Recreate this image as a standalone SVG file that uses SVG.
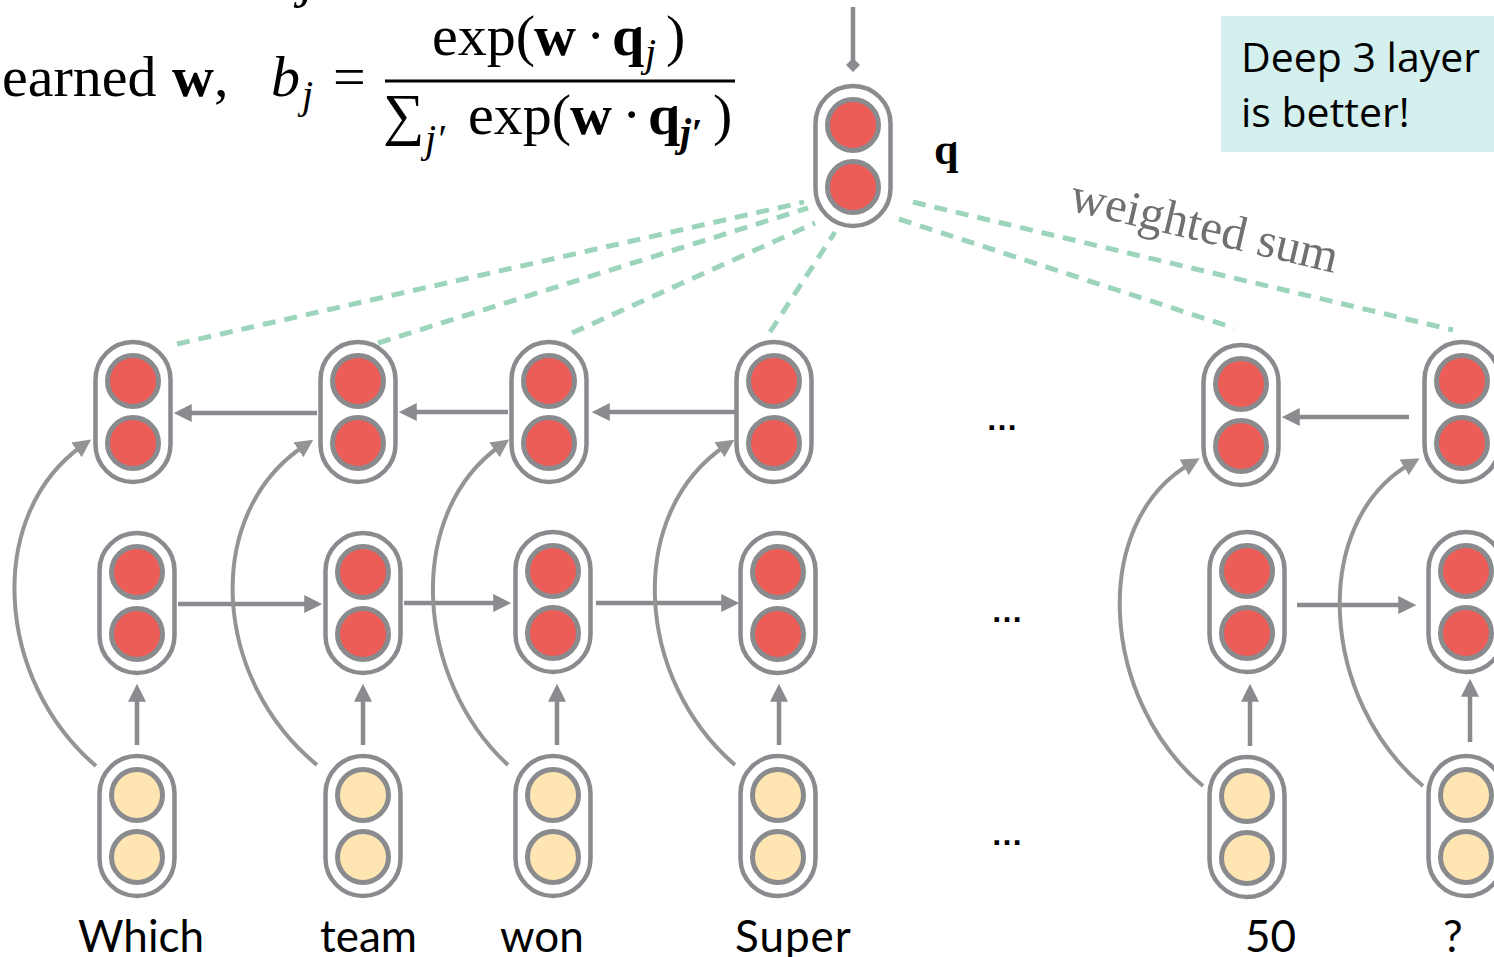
<svg xmlns="http://www.w3.org/2000/svg" width="1494" height="957" viewBox="0 0 1494 957">
<defs>
<style>
.pill{fill:#fff;stroke:#898b8e;stroke-width:4.5}
.r{fill:#ec5d57;stroke:#898b8e;stroke-width:5}
.y{fill:#fee5b1;stroke:#898b8e;stroke-width:5}
.ar{stroke:#898b8e;stroke-width:4.5;fill:none}
.cv{stroke:#949494;stroke-width:4;fill:none}
.ds{stroke:#9dd5bc;stroke-width:5;stroke-dasharray:13 9;fill:none}
.m{font-family:"Liberation Serif",serif;font-size:58px;fill:#000}
.sub{font-size:40px}
.lab{font-family:Lato,"Noto Sans",sans-serif;font-size:44px;fill:#000}
.dots{font-family:"Liberation Sans",sans-serif;font-size:32px;font-weight:bold;fill:#000}
</style>
<marker id="ah" markerUnits="userSpaceOnUse" markerWidth="18" markerHeight="18" viewBox="0 0 16 16" refX="6" refY="8" orient="auto">
<path d="M0,0 L16,8 L0,16 z" fill="#898b8e"/>
</marker>
<marker id="ahc" markerUnits="userSpaceOnUse" markerWidth="18" markerHeight="18" viewBox="0 0 16 16" refX="6" refY="8" orient="auto">
<path d="M0,0 L16,8 L0,16 z" fill="#949494"/>
</marker>
<g id="cell">
<rect class="pill" x="-37.5" y="-70" width="75" height="140" rx="37.5"/>
</g>
</defs>
<rect width="1494" height="957" fill="#fff"/>

<!-- formula -->
<g id="formula">
<text class="m" x="300" y="-4" font-style="italic">j</text>
<text class="m" x="2" y="96">earned</text>
<text class="m" x="172" y="96"><tspan font-weight="bold">w</tspan>,</text>
<text class="m" x="271" y="96" font-style="italic">b</text>
<text class="m sub" x="302" y="108" font-style="italic">j</text>
<text class="m" x="333" y="96">=</text>
<text class="m" x="432" y="55">exp(</text>
<text class="m" x="534" y="55" font-weight="bold">w</text>
<text class="m" x="586" y="55">·</text>
<text class="m" x="612" y="55" font-weight="bold">q</text>
<text class="m sub" x="645" y="66" font-style="italic">j</text>
<text class="m" x="666" y="55">)</text>
<line x1="385" y1="81" x2="735" y2="81" stroke="#000" stroke-width="3"/>
<text class="m" x="383" y="134">∑</text>
<text class="m sub" x="425" y="152" font-style="italic">j′</text>
<text class="m" x="468" y="134">exp(</text>
<text class="m" x="570" y="134" font-weight="bold">w</text>
<text class="m" x="622" y="134">·</text>
<text class="m" x="648" y="134" font-weight="bold">q</text>
<text class="m sub" x="680" y="146" font-style="italic" font-weight="bold">j′</text>
<text class="m" x="713" y="134">)</text>
</g>

<!-- note box -->
<g id="note">
<rect x="1221" y="16" width="273" height="136" fill="#d3f0ee"/>
<text x="1241" y="72" font-family="'Open Sans',sans-serif" font-size="41" fill="#000">Deep 3 layer</text>
<text x="1241" y="127" font-family="'Open Sans',sans-serif" font-size="41" fill="#000">is better!</text>
</g>

<!-- connectors -->
<g id="connectors">
<line class="ds" x1="177" y1="344" x2="804" y2="202"/>
<line class="ds" x1="378" y1="343" x2="808" y2="208"/>
<line class="ds" x1="572" y1="333" x2="815" y2="223"/>
<line class="ds" x1="770" y1="332" x2="835" y2="232"/>
<line class="ds" x1="913" y1="202" x2="1453" y2="330"/>
<line class="ds" x1="899" y1="219" x2="1234" y2="328"/>
<line x1="853" y1="7" x2="853" y2="62" stroke="#898b8e" stroke-width="4.5"/>
<polygon points="853,58 860,65 853,72 846,65" fill="#898b8e"/>
<line class="ar" x1="317" y1="413" x2="185" y2="413" marker-end="url(#ah)"/>
<line class="ar" x1="508" y1="412" x2="410" y2="412" marker-end="url(#ah)"/>
<line class="ar" x1="735" y1="412" x2="603" y2="412" marker-end="url(#ah)"/>
<line class="ar" x1="1409" y1="417" x2="1293" y2="417" marker-end="url(#ah)"/>
<line class="ar" x1="178" y1="604" x2="311" y2="604" marker-end="url(#ah)"/>
<line class="ar" x1="404" y1="603" x2="500" y2="603" marker-end="url(#ah)"/>
<line class="ar" x1="596" y1="603" x2="728" y2="603" marker-end="url(#ah)"/>
<line class="ar" x1="1297" y1="605" x2="1405" y2="605" marker-end="url(#ah)"/>
<line class="ar" x1="137" y1="745" x2="137" y2="695" marker-end="url(#ah)"/>
<line class="ar" x1="363" y1="745" x2="363" y2="695" marker-end="url(#ah)"/>
<line class="ar" x1="557" y1="745" x2="557" y2="695" marker-end="url(#ah)"/>
<line class="ar" x1="779" y1="745" x2="779" y2="695" marker-end="url(#ah)"/>
<line class="ar" x1="1250" y1="746" x2="1250" y2="695" marker-end="url(#ah)"/>
<line class="ar" x1="1470" y1="742" x2="1470" y2="690" marker-end="url(#ah)"/>
<path class="cv" d="M96,766 C-5,680 -15,515 82,446" marker-end="url(#ahc)"/>
<path class="cv" d="M317,765 C212,679 202,514 304,446" marker-end="url(#ahc)"/>
<path class="cv" d="M508,765 C415,679 404,514 500,446" marker-end="url(#ahc)"/>
<path class="cv" d="M735,765 C635,679 625,514 725,446" marker-end="url(#ahc)"/>
<path class="cv" d="M1203,786 C1100,700 1089,523 1190,464" marker-end="url(#ahc)"/>
<path class="cv" d="M1423,786 C1320,700 1309,523 1410,464" marker-end="url(#ahc)"/>
</g>

<!-- q node -->
<g id="q">
<use href="#cell" x="853" y="156"/>
<circle class="r" cx="853" cy="125" r="25.5"/>
<circle class="r" cx="853" cy="187" r="25.5"/>
<text x="934" y="164" font-family="'Liberation Serif',serif" font-size="44" font-weight="bold" fill="#000">q</text>
</g>

<g id="l3c1"><use href="#cell" x="133" y="412"/><circle class="r" cx="133" cy="381" r="25.5"/><circle class="r" cx="133" cy="443" r="25.5"/></g>
<g id="l3c2"><use href="#cell" x="358" y="412"/><circle class="r" cx="358" cy="381" r="25.5"/><circle class="r" cx="358" cy="443" r="25.5"/></g>
<g id="l3c3"><use href="#cell" x="549" y="412"/><circle class="r" cx="549" cy="381" r="25.5"/><circle class="r" cx="549" cy="443" r="25.5"/></g>
<g id="l3c4"><use href="#cell" x="774" y="412"/><circle class="r" cx="774" cy="381" r="25.5"/><circle class="r" cx="774" cy="443" r="25.5"/></g>
<g id="l3c5"><use href="#cell" x="1241" y="415"/><circle class="r" cx="1241" cy="384" r="25.5"/><circle class="r" cx="1241" cy="446" r="25.5"/></g>
<g id="l3c6"><use href="#cell" x="1462" y="412"/><circle class="r" cx="1462" cy="381" r="25.5"/><circle class="r" cx="1462" cy="443" r="25.5"/></g>

<g id="l2c1"><use href="#cell" x="137" y="603"/><circle class="r" cx="137" cy="572" r="25.5"/><circle class="r" cx="137" cy="634" r="25.5"/></g>
<g id="l2c2"><use href="#cell" x="363" y="603"/><circle class="r" cx="363" cy="572" r="25.5"/><circle class="r" cx="363" cy="634" r="25.5"/></g>
<g id="l2c3"><use href="#cell" x="553" y="602"/><circle class="r" cx="553" cy="571" r="25.5"/><circle class="r" cx="553" cy="633" r="25.5"/></g>
<g id="l2c4"><use href="#cell" x="778" y="603"/><circle class="r" cx="778" cy="572" r="25.5"/><circle class="r" cx="778" cy="634" r="25.5"/></g>
<g id="l2c5"><use href="#cell" x="1247" y="602"/><circle class="r" cx="1247" cy="571" r="25.5"/><circle class="r" cx="1247" cy="633" r="25.5"/></g>
<g id="l2c6"><use href="#cell" x="1466" y="602"/><circle class="r" cx="1466" cy="571" r="25.5"/><circle class="r" cx="1466" cy="633" r="25.5"/></g>

<g id="l1c1"><use href="#cell" x="137" y="826"/><circle class="y" cx="137" cy="795" r="25.5"/><circle class="y" cx="137" cy="857" r="25.5"/></g>
<g id="l1c2"><use href="#cell" x="363" y="826"/><circle class="y" cx="363" cy="795" r="25.5"/><circle class="y" cx="363" cy="857" r="25.5"/></g>
<g id="l1c3"><use href="#cell" x="553" y="826"/><circle class="y" cx="553" cy="795" r="25.5"/><circle class="y" cx="553" cy="857" r="25.5"/></g>
<g id="l1c4"><use href="#cell" x="778" y="826"/><circle class="y" cx="778" cy="795" r="25.5"/><circle class="y" cx="778" cy="857" r="25.5"/></g>
<g id="l1c5"><use href="#cell" x="1247" y="827"/><circle class="y" cx="1247" cy="796" r="25.5"/><circle class="y" cx="1247" cy="858" r="25.5"/></g>
<g id="l1c6"><use href="#cell" x="1466" y="826"/><circle class="y" cx="1466" cy="795" r="25.5"/><circle class="y" cx="1466" cy="857" r="25.5"/></g>

<g id="ellipses">
<text class="dots" x="986" y="430">…</text>
<text class="dots" x="991" y="622">…</text>
<text class="dots" x="991" y="845">…</text>
</g>

<text x="1068" y="210" transform="rotate(13.3 1068 210)" font-family="'Liberation Serif',serif" font-size="49" fill="#707070">weighted sum</text>

<g id="words">
<text class="lab" x="78" y="952">Which</text>
<text class="lab" x="320" y="952">team</text>
<text class="lab" x="500" y="952">won</text>
<text class="lab" x="735" y="952" letter-spacing="1">Super</text>
<text class="lab" x="1245" y="952">50</text>
<text class="lab" x="1443" y="952">?</text>
</g>
</svg>
